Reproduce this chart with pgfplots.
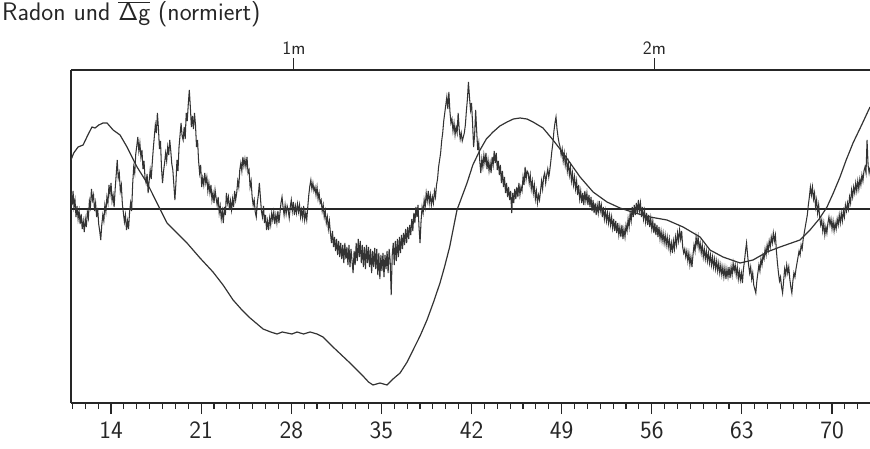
\documentclass[border=0pt]{standalone}
\usepackage{pgfplots}
\pgfplotsset{compat=1.18}
\begin{document}
\sffamily
\begin{tikzpicture}
\path[use as bounding box] (-71bp,-46bp) rectangle (799bp,403bp);
\begin{axis}[
  at={(0bp,0bp)}, anchor=south west,
  width=799bp, height=333bp, scale only axis,
  xmin=10.89, xmax=72.95, ymin=-19.4, ymax=13.9,
  axis x line*=bottom, axis y line*=left,
  axis line style={black!85, line width=1.4bp},
  xtick={14,21,...,70},
  xticklabels={14,21,28,35,42,49,56,63,70},
  minor xtick={11,12,...,72},
  ytick=\empty,
  tick align=outside,
  major tick length=11bp, minor tick length=6bp,
  every tick/.style={black!85, line width=1.1bp},
  xticklabel style={font=\sffamily\fontsize{25}{25}\selectfont, text=black!85, yshift=-4bp},
]
\addplot[black!85, line width=1.3bp] coordinates {(10.89,0) (72.95,0)};
% Radon (noisy)
\addplot[black!80, line width=1.05bp] coordinates {
(10.90,1.6) (10.98,0.4) (11.05,1.8) (11.12,0.2) (11.20,0.9) (11.28,-0.8) (11.36,0.3) (11.44,-1.0) (11.52,-0.2) (11.60,-1.5)
(11.68,-0.5) (11.76,-2.0) (11.84,-1.2) (11.92,-2.3) (12.00,-1.0) (12.08,-1.8) (12.16,-0.3) (12.24,-0.9) (12.32,0.8) (12.40,0.2)
(12.48,2.0) (12.56,0.9) (12.64,1.4) (12.72,-0.2) (12.80,0.6) (12.88,-0.8) (12.96,0.1) (13.04,-1.5) (13.12,-2.2) (13.20,-3.1)
(13.28,-1.6) (13.36,-0.6) (13.44,-1.2) (13.52,0.4) (13.60,-0.3) (13.68,1.2) (13.76,0.6) (13.84,2.4) (13.92,1.5) (14.00,2.6)
(14.08,0.8) (14.16,1.4) (14.24,0.2) (14.32,2.0) (14.40,3.4) (14.48,4.9) (14.56,3.1) (14.64,3.6) (14.72,1.8) (14.80,2.4)
(14.88,0.5) (14.96,-0.4) (15.04,-1.3) (15.12,-0.6) (15.20,-2.1) (15.28,-1.2) (15.36,-2.0) (15.44,-0.3) (15.52,0.6) (15.60,-0.2)
(15.68,2.5) (15.76,4.2) (15.84,3.6) (15.92,5.5) (16.00,6.3) (16.08,7.2) (16.16,5.8) (16.24,6.6) (16.32,5.2) (16.40,5.9)
(16.48,4.0) (16.56,4.8) (16.64,3.1) (16.72,2.6) (16.80,3.5) (16.88,1.6) (16.96,2.8) (17.04,3.9) (17.12,3.0) (17.20,4.6)
(17.28,6.0) (17.36,7.2) (17.44,8.4) (17.52,7.6) (17.60,9.6) (17.68,8.1) (17.76,6.0) (17.84,6.8) (17.92,4.1) (18.00,2.6)
(18.08,3.8) (18.16,4.6) (18.24,5.6) (18.32,4.8) (18.40,6.2) (18.48,5.4) (18.56,6.9) (18.64,5.8) (18.72,4.5) (18.80,3.9)
(18.88,2.4) (18.96,0.9) (19.04,2.6) (19.12,4.9) (19.20,3.8) (19.28,6.2) (19.36,7.4) (19.44,8.6) (19.52,7.3) (19.60,6.9)
(19.68,8.2) (19.76,7.0) (19.84,9.6) (19.92,8.8) (20.00,10.5) (20.08,11.9) (20.16,10.2) (20.24,8.2) (20.32,9.3) (20.40,8.0)
(20.48,9.6) (20.56,8.4) (20.64,6.2) (20.72,6.9) (20.80,4.8) (20.88,3.6) (20.96,4.4) (21.04,2.2) (21.12,3.1) (21.20,2.4)
(21.28,3.6) (21.36,2.6) (21.44,3.2) (21.52,1.8) (21.60,2.6) (21.68,1.6) (21.76,2.4) (21.84,0.9) (21.92,1.6) (22.00,0.6)
(22.08,1.9) (22.16,1.1) (22.24,0.4) (22.32,1.2) (22.40,-0.4) (22.48,0.3) (22.56,-1.0) (22.64,-0.2) (22.72,-1.4) (22.80,0.2)
(22.88,-0.6) (22.96,1.6) (23.04,0.6) (23.12,1.2) (23.20,-0.1) (23.28,0.8) (23.36,-0.1) (23.44,1.0) (23.52,0.2) (23.60,1.8)
(23.68,0.9) (23.76,1.6) (23.84,2.8) (23.92,2.2) (24.00,3.9) (24.08,4.6) (24.16,3.8) (24.24,5.2) (24.32,4.3) (24.40,5.0)
(24.48,4.2) (24.56,5.2) (24.64,3.6) (24.72,3.9) (24.80,2.2) (24.88,2.8) (24.96,1.2) (25.04,0.4) (25.12,0.9) (25.20,-0.3)
(25.28,-0.8) (25.36,0.6) (25.44,1.4) (25.52,2.6) (25.60,1.2) (25.68,-0.2) (25.76,-0.8) (25.84,0.3) (25.92,-1.4) (26.00,-0.6)
(26.08,-2.1) (26.16,-1.2) (26.24,-2.1) (26.32,-0.9) (26.40,-1.6) (26.48,-0.4) (26.56,-1.1) (26.64,-0.3) (26.72,-1.5) (26.80,-0.6)
(26.88,-1.4) (26.96,-0.2) (27.04,-1.4) (27.12,-0.4) (27.20,0.6) (27.28,1.2) (27.36,0.2) (27.44,-0.6) (27.52,0.4) (27.60,-0.5)
(27.68,0.3) (27.76,-0.1) (27.84,-0.9) (27.92,0.2) (28.00,0.9) (28.08,-0.2) (28.16,0.7) (28.24,-0.6) (28.32,0.3) (28.40,-0.4)
(28.48,0.5) (28.56,-0.3) (28.64,0.4) (28.72,-0.8) (28.80,-0.1) (28.88,-0.9) (28.96,0.3) (29.04,-1.1) (29.12,-0.4) (29.20,-1.1)
(29.28,0.2) (29.36,1.4) (29.44,2.3) (29.52,2.9) (29.60,2.0) (29.68,2.6) (29.76,1.8) (29.84,2.2) (29.92,1.4) (30.00,2.2)
(30.08,1.0) (30.16,1.6) (30.24,0.6) (30.32,0.9) (30.40,-0.2) (30.48,0.4) (30.56,-0.8) (30.64,-0.2) (30.72,-1.4) (30.80,-0.8)
(30.88,-2.0) (30.96,-1.2) (31.04,-2.4) (31.12,-3.4) (31.20,-2.2) (31.28,-3.8) (31.36,-2.8) (31.44,-4.2) (31.52,-3.0) (31.60,-4.6)
(31.68,-3.2) (31.76,-4.8) (31.84,-3.4) (31.92,-5.0) (32.00,-3.6) (32.08,-5.4) (32.16,-3.4) (32.24,-5.0) (32.32,-3.8) (32.40,-5.6)
(32.48,-3.6) (32.56,-5.8) (32.64,-4.0) (32.72,-5.2) (32.80,-6.4) (32.88,-4.2) (32.96,-5.6) (33.04,-3.4) (33.12,-5.2) (33.20,-3.0)
(33.28,-4.8) (33.36,-3.2) (33.44,-5.4) (33.52,-3.6) (33.60,-5.8) (33.68,-3.8) (33.76,-6.0) (33.84,-3.6) (33.92,-5.4) (34.00,-3.8)
(34.08,-5.8) (34.16,-4.0) (34.24,-6.4) (34.32,-4.2) (34.40,-5.8) (34.48,-3.9) (34.56,-6.0) (34.64,-4.0) (34.72,-6.6) (34.80,-4.4)
(34.88,-7.0) (34.96,-4.6) (35.04,-6.2) (35.12,-4.4) (35.20,-6.8) (35.28,-4.6) (35.36,-6.0) (35.44,-4.2) (35.52,-6.4) (35.60,-4.0)
(35.68,-5.2) (35.76,-8.6) (35.84,-4.6) (35.92,-3.4) (36.00,-5.6) (36.08,-3.2) (36.16,-5.2) (36.24,-3.0) (36.32,-4.8) (36.40,-2.8)
(36.48,-4.4) (36.56,-2.6) (36.64,-4.0) (36.72,-2.4) (36.80,-3.6) (36.88,-2.0) (36.96,-3.4) (37.04,-1.8) (37.12,-3.0) (37.20,-1.6)
(37.28,-2.6) (37.36,-1.0) (37.44,-2.2) (37.52,-0.4) (37.60,-1.4) (37.68,0.2) (37.76,-0.8) (37.84,0.4) (37.92,-1.8) (38.00,-3.4)
(38.08,-1.2) (38.16,0.2) (38.24,-0.4) (38.32,0.9) (38.40,0.2) (38.48,1.6) (38.56,0.8) (38.64,1.8) (38.72,0.6) (38.80,1.4)
(38.88,0.4) (38.96,1.2) (39.04,0.6) (39.12,1.8) (39.20,1.2) (39.28,2.4) (39.36,3.0) (39.44,4.2) (39.52,4.9) (39.60,5.6)
(39.68,6.8) (39.76,7.6) (39.84,8.8) (39.92,9.6) (40.00,10.4) (40.08,11.2) (40.16,10.0) (40.24,11.7) (40.32,9.8) (40.40,8.6)
(40.48,9.0) (40.56,7.8) (40.64,8.6) (40.72,7.4) (40.80,8.2) (40.88,7.6) (40.96,9.6) (41.04,8.0) (41.12,7.0) (41.20,7.6)
(41.28,6.8) (41.36,7.2) (41.44,7.6) (41.52,8.4) (41.60,9.8) (41.68,11.0) (41.76,12.7) (41.84,11.2) (41.92,9.9) (42.00,10.6)
(42.08,8.6) (42.16,6.2) (42.24,7.4) (42.32,9.9) (42.40,7.8) (42.48,5.9) (42.56,6.6) (42.64,4.8) (42.72,3.6) (42.80,5.0)
(42.88,4.2) (42.96,5.4) (43.04,4.6) (43.12,5.6) (43.20,4.0) (43.28,4.9) (43.36,3.8) (43.44,4.6) (43.52,3.6) (43.60,5.2)
(43.68,4.4) (43.76,5.8) (43.84,4.6) (43.92,5.6) (44.00,3.9) (44.08,4.8) (44.16,3.4) (44.24,4.4) (44.32,2.6) (44.40,3.8)
(44.48,2.2) (44.56,3.2) (44.64,1.6) (44.72,2.6) (44.80,1.2) (44.88,2.2) (44.96,0.9) (45.04,1.8) (45.12,-0.4) (45.20,1.6)
(45.28,0.6) (45.36,2.0) (45.44,1.0) (45.52,2.2) (45.60,1.2) (45.68,2.6) (45.76,1.4) (45.84,2.2) (45.92,1.8) (46.00,3.2)
(46.08,2.4) (46.16,4.2) (46.24,3.0) (46.32,3.8) (46.40,3.6) (46.48,2.6) (46.56,3.4) (46.64,2.0) (46.72,2.8) (46.80,1.6)
(46.88,2.4) (46.96,1.0) (47.04,1.8) (47.12,0.6) (47.20,1.4) (47.28,0.9) (47.36,1.8) (47.44,2.8) (47.52,2.0) (47.60,3.2)
(47.68,3.6) (47.76,2.6) (47.84,3.4) (47.92,4.0) (48.00,3.2) (48.08,3.9) (48.16,4.8) (48.24,5.8) (48.32,6.6) (48.40,7.8)
(48.48,8.6) (48.56,9.2) (48.64,8.0) (48.72,7.2) (48.80,6.6) (48.88,6.2) (48.96,5.4) (49.04,6.0) (49.12,4.8) (49.20,5.6)
(49.28,4.4) (49.36,5.2) (49.44,3.8) (49.52,4.6) (49.60,3.4) (49.68,4.2) (49.76,2.8) (49.84,3.6) (49.92,2.4) (50.00,3.2)
(50.08,2.0) (50.16,2.8) (50.24,1.4) (50.32,2.4) (50.40,1.0) (50.48,1.8) (50.56,0.6) (50.64,1.6) (50.72,0.4) (50.80,1.8)
(50.88,0.8) (50.96,1.6) (51.04,0.4) (51.12,1.4) (51.20,0.2) (51.28,1.2) (51.36,-0.2) (51.44,0.9) (51.52,-0.4) (51.60,0.6)
(51.68,-0.6) (51.76,0.4) (51.84,-0.4) (51.92,0.8) (52.00,-0.2) (52.08,0.4) (52.16,-0.8) (52.24,0.2) (52.32,-1.0) (52.40,-0.2)
(52.48,-1.2) (52.56,-0.4) (52.64,-1.4) (52.72,-0.6) (52.80,-1.6) (52.88,-0.8) (52.96,-1.9) (53.04,-1.0) (53.12,-2.2) (53.20,-1.2)
(53.28,-2.4) (53.36,-1.4) (53.44,-2.6) (53.52,-1.8) (53.60,-2.8) (53.68,-1.6) (53.76,-3.0) (53.84,-2.0) (53.92,-2.8) (54.00,-1.6)
(54.08,-2.2) (54.16,-1.0) (54.24,-1.8) (54.32,-0.4) (54.40,-1.2) (54.48,0.2) (54.56,-0.8) (54.64,0.4) (54.72,-0.6) (54.80,0.6)
(54.88,-0.4) (54.96,0.9) (55.04,-0.2) (55.12,0.6) (55.20,-0.8) (55.28,0.2) (55.36,-1.0) (55.44,-0.2) (55.52,-1.3) (55.60,-0.4)
(55.68,-1.6) (55.76,-0.6) (55.84,-1.8) (55.92,-0.9) (56.00,-2.0) (56.08,-1.2) (56.16,-2.4) (56.24,-1.4) (56.32,-2.6) (56.40,-1.6)
(56.48,-2.8) (56.56,-1.8) (56.64,-3.0) (56.72,-2.2) (56.80,-3.2) (56.88,-2.4) (56.96,-3.4) (57.04,-2.6) (57.12,-3.6) (57.20,-2.8)
(57.28,-3.8) (57.36,-3.0) (57.44,-4.2) (57.52,-3.4) (57.60,-4.4) (57.68,-3.2) (57.76,-4.0) (57.84,-2.8) (57.92,-3.6) (58.00,-2.4)
(58.08,-3.2) (58.16,-2.1) (58.24,-3.0) (58.32,-2.2) (58.40,-3.8) (58.48,-4.4) (58.56,-4.0) (58.64,-4.8) (58.72,-4.2) (58.80,-5.2)
(58.88,-4.4) (58.96,-5.6) (59.04,-4.8) (59.12,-5.8) (59.20,-4.6) (59.28,-3.6) (59.36,-4.2) (59.44,-2.8) (59.52,-3.6) (59.60,-2.8)
(59.68,-4.0) (59.76,-3.4) (59.84,-4.4) (59.92,-3.6) (60.00,-4.8) (60.08,-4.0) (60.16,-5.0) (60.24,-4.2) (60.32,-5.2) (60.40,-4.4)
(60.48,-5.4) (60.56,-4.6) (60.64,-5.6) (60.72,-4.8) (60.80,-5.8) (60.88,-5.0) (60.96,-6.0) (61.04,-5.2) (61.12,-6.2) (61.20,-5.4)
(61.28,-6.4) (61.36,-5.6) (61.44,-6.6) (61.52,-5.8) (61.60,-6.8) (61.68,-5.9) (61.76,-7.0) (61.84,-6.0) (61.92,-6.8) (62.00,-5.8)
(62.08,-6.9) (62.16,-5.8) (62.24,-6.6) (62.32,-5.4) (62.40,-6.2) (62.48,-5.6) (62.56,-6.6) (62.64,-5.8) (62.72,-7.0) (62.80,-6.2)
(62.88,-7.1) (62.96,-6.4) (63.04,-7.4) (63.12,-6.0) (63.20,-5.2) (63.28,-4.2) (63.36,-3.4) (63.44,-4.6) (63.52,-5.6) (63.60,-6.4)
(63.68,-5.8) (63.76,-7.0) (63.84,-6.4) (63.92,-7.6) (64.00,-8.0) (64.08,-8.4) (64.16,-7.2) (64.24,-6.4) (64.32,-5.6) (64.40,-6.2)
(64.48,-5.0) (64.56,-5.6) (64.64,-4.6) (64.72,-5.0) (64.80,-4.0) (64.88,-4.6) (64.96,-3.6) (65.04,-4.2) (65.12,-3.2) (65.20,-3.8)
(65.28,-2.8) (65.36,-3.4) (65.44,-2.4) (65.52,-3.2) (65.60,-2.6) (65.68,-4.2) (65.76,-5.4) (65.84,-6.4) (65.92,-7.2) (66.00,-6.8)
(66.08,-7.8) (66.16,-8.4) (66.24,-7.2) (66.32,-6.0) (66.40,-6.6) (66.48,-5.6) (66.56,-6.4) (66.64,-5.8) (66.72,-7.0) (66.80,-7.8)
(66.88,-8.4) (66.96,-7.2) (67.04,-6.4) (67.12,-6.8) (67.20,-6.0) (67.28,-5.4) (67.36,-4.8) (67.44,-4.2) (67.52,-4.6) (67.60,-3.6)
(67.68,-4.0) (67.76,-3.0) (67.84,-2.4) (67.92,-1.8) (68.00,-1.2) (68.08,-0.6) (68.16,0.4) (68.24,1.2) (68.32,2.2) (68.40,1.4)
(68.48,2.2) (68.56,1.0) (68.64,1.6) (68.72,0.2) (68.80,0.9) (68.88,-0.4) (68.96,0.4) (69.04,-0.8) (69.12,-1.6) (69.20,-1.1)
(69.28,-2.2) (69.36,-1.4) (69.44,-2.6) (69.52,-1.8) (69.60,-2.4) (69.68,-1.4) (69.76,-0.8) (69.84,-1.6) (69.92,-1.0) (70.00,-2.0)
(70.08,-1.2) (70.16,-2.2) (70.24,-1.4) (70.32,-2.0) (70.40,-1.0) (70.48,-1.6) (70.56,-0.6) (70.64,-1.4) (70.72,-0.4) (70.80,-1.2)
(70.88,-0.2) (70.96,-0.8) (71.04,0.4) (71.12,-0.2) (71.20,0.6) (71.28,0.0) (71.36,1.2) (71.44,0.6) (71.52,1.9) (71.60,1.2)
(71.68,2.2) (71.76,1.6) (71.84,2.6) (71.92,1.8) (72.00,2.8) (72.08,2.0) (72.16,3.0) (72.24,2.4) (72.32,3.4) (72.40,2.8)
(72.48,3.8) (72.56,4.2) (72.64,3.6) (72.72,6.9) (72.80,4.4) (72.88,3.6) (72.96,4.2)
};
% Delta g (smooth)
\addplot[black!80, line width=1.2bp] coordinates {
(10.89,4.9) (11.10,5.6) (11.44,6.2) (11.83,6.4) (12.20,7.4) (12.52,8.2) (12.76,8.1) (13.05,8.4) (13.38,8.6) (13.69,8.6)
(14.16,7.9) (14.70,7.4) (15.24,6.2) (16.02,4.2) (16.80,2.6) (17.57,0.6) (18.35,-1.4) (19.13,-2.4) (19.90,-3.4) (20.91,-4.9)
(21.92,-6.3) (22.70,-7.6) (23.48,-9.1) (24.10,-10.0) (24.80,-10.9) (25.81,-12.0) (26.40,-12.3) (26.89,-12.5) (27.30,-12.3) (27.67,-12.4)
(28.05,-12.5) (28.45,-12.3) (28.95,-12.5) (29.46,-12.3) (30.00,-12.5) (30.47,-12.8) (31.24,-13.8) (31.90,-14.6) (32.56,-15.4) (33.10,-16.1)
(33.57,-16.7) (34.00,-17.3) (34.35,-17.6) (34.89,-17.4) (35.44,-17.6) (35.90,-17.0) (36.45,-16.4) (37.00,-15.3) (37.46,-14.1) (38.00,-12.7)
(38.54,-11.1) (39.05,-9.3) (39.55,-7.4) (39.90,-5.8) (40.30,-3.8) (40.87,-0.1) (41.65,2.6) (42.10,4.4) (42.66,5.9) (43.15,7.0)
(43.67,7.7) (44.20,8.3) (44.76,8.7) (45.25,9.0) (45.77,9.1) (46.30,9.0) (46.78,8.7) (47.55,8.1) (48.33,6.9) (49.11,5.6)
(49.88,4.2) (50.43,3.2) (51.44,1.7) (52.52,0.7) (53.53,0.1) (54.70,-0.4) (55.86,-0.8) (57.18,-1.1) (58.43,-1.8) (59.75,-2.8)
(60.52,-4.1) (61.53,-4.8) (62.86,-5.4) (63.86,-5.1) (64.95,-4.3) (65.96,-3.8) (67.51,-3.1) (68.29,-2.1) (69.00,-1.0) (69.61,0.2)
(70.10,1.6) (70.62,3.2) (71.10,4.9) (71.63,6.6) (72.30,8.4) (72.95,10.2)
};
\end{axis}
\begin{axis}[
  at={(0bp,0bp)}, anchor=south west,
  width=799bp, height=333bp, scale only axis,
  xmin=10.89, xmax=72.95, ymin=0, ymax=1,
  axis x line*=top, axis y line=none,
  axis line style={black!85, line width=1.4bp},
  xtick={28.2,56.2}, xticklabels={1m,2m},
  ytick=\empty,
  tick align=outside, major tick length=12bp,
  every tick/.style={black!85, line width=1.1bp},
  xticklabel style={font=\sffamily\fontsize{19}{19}\selectfont, text=black!85},
]
\end{axis}
\node[anchor=base west, inner sep=0pt, font=\sffamily\fontsize{25.5}{25.5}\selectfont, text=black!85] at (-69bp,382bp) {Radon und $\overline{\hbox{Δg}}$ (normiert)};
\end{tikzpicture}
\end{document}
